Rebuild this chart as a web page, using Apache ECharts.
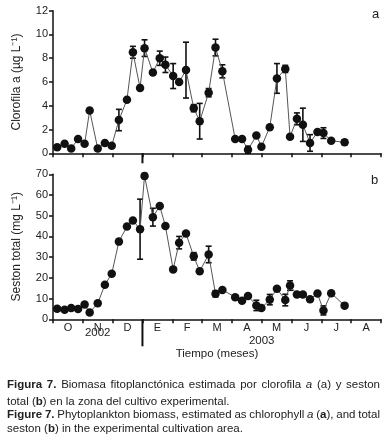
<!DOCTYPE html>
<html>
<head>
<meta charset="utf-8">
<script src="https://cdn.jsdelivr.net/npm/echarts@6/dist/echarts.min.js"></script>
<style>
html,body{margin:0;padding:0;background:#fff;}
#chart{width:391px;height:446px;}
</style>
</head>
<body>
<div id="chart"></div>
<script>
// sampling dates, in months counted from 1 Oct 2002
var fechas = [0.14,0.39,0.61,0.84,1.06,1.23,1.50,1.74,1.97,2.21,2.48,2.68,2.92,3.07,3.35,3.58,3.77,4.03,4.23,4.46,4.72,4.92,5.22,5.45,5.68,6.11,6.34,6.54,6.82,6.99,7.27,7.51,7.79,7.95,8.18,8.38,8.62,8.87,9.07,9.33,9.78];
var clorofila = [0.5,0.8,0.4,1.2,0.8,3.6,0.4,0.87,0.64,2.8,4.5,8.5,5.5,8.85,6.8,8.0,7.45,6.5,6.0,7.0,3.8,2.7,5.1,8.9,6.9,1.2,1.2,0.3,1.5,0.56,2.2,6.3,7.1,1.4,2.9,2.4,0.87,1.8,1.7,1.06,0.92];
var clorofilaErr = [0,0,0,0,0,0,0,0,0,0.9,0,0.5,0.2,0.7,0.15,0.6,0.65,1.05,0.1,2.35,0.3,1.5,0.35,0.7,0.55,0,0,0.3,0,0,0,1.25,0.3,0,0.5,1.4,0.7,0,0.45,0,0.2];
var seston = [5.1,4.6,5.4,5.0,7.1,3.3,7.7,16.7,22,37.5,44.8,47.7,43.5,69.2,49.3,54.7,45,24.1,37,41.4,30.4,23.2,31.3,12.3,14.2,10.7,9.0,11.3,6.7,5.4,9.5,14.7,9.3,16.3,12,12,9.7,12.4,4.3,12.6,6.6];
var sestonErr = [1,0,0,0,0,0,0,0,0,0,0,0,14.5,1.2,4.3,0,0,0,3,0,1.8,0,4,1.5,0,0,0,0,2.5,1,2.5,0,2.8,2.3,0,0,0,0,2.2,0,0];
var meses = ['O','N','D','E','F','M','A','M','J','J','A'];
var anios = ['2002', '2003'];
var aniosPos = [1.5, 7];

var FONT = '"Liberation Sans", Arial, sans-serif';
var myChart = echarts.init(document.getElementById('chart'));

function pares(xs, ys, es){
    var out = [];
    for (var i = 0; i < xs.length; i++) out.push([xs[i], ys[i], es ? es[i] : 0]);
    return out;
}

function barras(params, api){
    var e = api.value(2);
    if (!e) return;
    var x = api.value(0), y = api.value(1);
    var hi = api.coord([x, y + e]);
    var lo = api.coord([x, Math.max(0, y - e)]);
    var st = {stroke:'#111', lineWidth:1.6};
    return {type:'group', children:[
        {type:'line', shape:{x1:hi[0], y1:hi[1], x2:lo[0], y2:lo[1]}, style:st},
        {type:'line', shape:{x1:hi[0]-3, y1:hi[1], x2:hi[0]+3, y2:hi[1]}, style:st},
        {type:'line', shape:{x1:lo[0]-3, y1:lo[1], x2:lo[0]+3, y2:lo[1]}, style:st}
    ]};
}

var ejeLinea = {lineStyle:{color:'#111', width:1.5}};
var ejeTick = {length:4, lineStyle:{color:'#111', width:1.5}};
var etiqueta = {color:'#222', fontSize:11, fontFamily:FONT};

var option = {
    backgroundColor:'#fff',
    animation:false,
    grid:[
        {left:53, right:10, top:10.7, height:142.6},
        {left:53, right:10, top:174.3, height:145}
    ],
    xAxis:[
        {type:'value', gridIndex:0, min:0, max:11, interval:1, axisLine:ejeLinea, axisTick:ejeTick,
         axisLabel:{show:false}, splitLine:{show:false}},
        {type:'value', gridIndex:1, min:0, max:11, interval:1, axisLine:ejeLinea, axisTick:ejeTick,
         axisLabel:{show:false}, splitLine:{show:false}},
        {type:'category', gridIndex:1, position:'bottom', data:meses, boundaryGap:true,
         axisLine:{show:false}, axisTick:{show:false}, axisLabel:Object.assign({margin:3}, etiqueta),
         name:'Tiempo (meses)', nameLocation:'middle', nameGap:29,
         nameTextStyle:{color:'#222', fontSize:11.5, fontFamily:FONT}}
    ],
    yAxis:[
        {type:'value', gridIndex:0, min:0, max:12, interval:2, axisLine:Object.assign({show:true}, ejeLinea),
         axisTick:Object.assign({show:true}, ejeTick), axisLabel:Object.assign({margin:5}, etiqueta), splitLine:{show:false},
         name:'Clorofila a (µg L⁻¹)', nameLocation:'middle', nameGap:30,
         nameTextStyle:{color:'#222', fontSize:12, fontFamily:FONT}},
        {type:'value', gridIndex:1, min:0, max:70, interval:10, axisLine:Object.assign({show:true}, ejeLinea),
         axisTick:Object.assign({show:true}, ejeTick), axisLabel:Object.assign({margin:5}, etiqueta), splitLine:{show:false},
         name:'Seston total (mg L⁻¹)', nameLocation:'middle', nameGap:30,
         nameTextStyle:{color:'#222', fontSize:12, fontFamily:FONT}}
    ],
    series:[
        {type:'custom', xAxisIndex:0, yAxisIndex:0, renderItem:barras, data:pares(fechas, clorofila, clorofilaErr), z:2},
        {type:'line', xAxisIndex:0, yAxisIndex:0, data:pares(fechas, clorofila), symbol:'circle', symbolSize:8.5,
         lineStyle:{color:'#555', width:1}, itemStyle:{color:'#111'}, z:3},
        {type:'custom', xAxisIndex:1, yAxisIndex:1, renderItem:barras, data:pares(fechas, seston, sestonErr), z:2},
        {type:'line', xAxisIndex:1, yAxisIndex:1, data:pares(fechas, seston), symbol:'circle', symbolSize:8.5,
         lineStyle:{color:'#555', width:1}, itemStyle:{color:'#111'}, z:3}
    ]
};
myChart.setOption(option);

// caption text, split into styled words and justified with canvas measurements
var ctx = document.createElement('canvas').getContext('2d');
function fuente(w){
    return (w.i ? 'italic ' : '') + (w.b ? 'bold ' : '') + '11.5px ' + FONT;
}
function linea(segs, y, justificar){
    var palabras = [];
    segs.forEach(function(s){
        s.t.split(' ').forEach(function(p, k){
            if (p === '') return;
            palabras.push({t:p, b:s.b, i:s.i, pegada:(k === 0 && s.pegada)});
        });
    });
    // glued pieces (no space between) go in one token
    var grupos = [];
    palabras.forEach(function(p){
        if (p.pegada && grupos.length) grupos[grupos.length-1].push(p);
        else grupos.push([p]);
    });
    var anchos = grupos.map(function(g){
        return g.reduce(function(a, p){ ctx.font = fuente(p); return a + ctx.measureText(p.t).width; }, 0);
    });
    ctx.font = fuente({});
    var esp = ctx.measureText(' ').width;
    var x0 = 7, x1 = 380;
    var total = anchos.reduce(function(a, b){ return a + b; }, 0);
    var gap = justificar ? (x1 - x0 - total) / (grupos.length - 1) : esp;
    var out = [], x = x0;
    grupos.forEach(function(g){
        g.forEach(function(p){
            ctx.font = fuente(p);
            out.push({type:'text', x:x, y:y, style:{text:p.t, fill:'#222', fontSize:11.5, fontFamily:FONT,
                fontWeight:p.b ? 'bold' : 'normal', fontStyle:p.i ? 'italic' : 'normal', verticalAlign:'middle'}});
            x += ctx.measureText(p.t).width;
        });
        x += gap;
    });
    return out;
}

var graficos = [];
graficos = graficos.concat(linea([
    {t:'Figura 7.', b:true}, {t:'Biomasa fitoplanctónica estimada por clorofila'}, {t:'a', i:true},
    {t:'(a) y seston'}], 385, true));
graficos = graficos.concat(linea([
    {t:'total ('}, {t:'b', b:true, pegada:true}, {t:') en la zona del cultivo experimental.', pegada:true}], 401.5, false));
graficos = graficos.concat(linea([
    {t:'Figure 7.', b:true}, {t:'Phytoplankton biomass, estimated as chlorophyll'}, {t:'a', i:true},
    {t:'('}, {t:'a', b:true, pegada:true}, {t:'), and total', pegada:true}], 415, true));
graficos = graficos.concat(linea([
    {t:'seston ('}, {t:'b', b:true, pegada:true}, {t:') in the experimental cultivation area.', pegada:true}], 429.3, false));

// panel letters
graficos.push({type:'text', x:372, y:14, style:{text:'a', fill:'#222', fontSize:13, fontFamily:FONT, verticalAlign:'middle'}});
graficos.push({type:'text', x:371, y:180, style:{text:'b', fill:'#222', fontSize:13, fontFamily:FONT, verticalAlign:'middle'}});

// year divider and year labels (2003 sits a little lower in the original)
var pTop = myChart.convertToPixel({gridIndex:0}, [3, 0]);
var pBot = myChart.convertToPixel({gridIndex:1}, [3, 0]);
graficos.push({type:'line', shape:{x1:pTop[0], y1:pTop[1], x2:pTop[0], y2:pTop[1] + 10}, style:{stroke:'#111', lineWidth:2}});
graficos.push({type:'line', shape:{x1:pBot[0], y1:pBot[1], x2:pBot[0], y2:pBot[1] + 27}, style:{stroke:'#111', lineWidth:2}});
var aniosDy = [14, 22];
anios.forEach(function(a, i){
    var p = myChart.convertToPixel({gridIndex:1}, [aniosPos[i], 0]);
    graficos.push({type:'text', x:p[0], y:p[1] + aniosDy[i], style:{text:a, fill:'#222', fontSize:11.5, fontFamily:FONT,
        align:'center', verticalAlign:'middle'}});
});
myChart.setOption({graphic:graficos});

window.onresize = function(){
    myChart.resize();
};
</script>
</body>
</html>
